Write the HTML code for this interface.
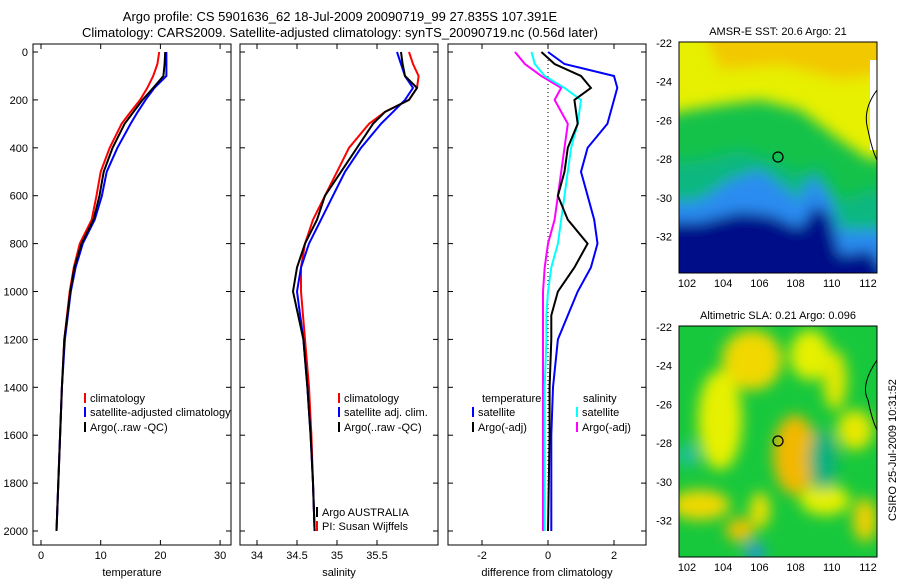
<!DOCTYPE html>
<html><head><meta charset="utf-8"><style>
html,body{margin:0;padding:0;background:#fff;}
svg{display:block;font-family:"Liberation Sans",sans-serif;}
</style></head><body>
<svg id="s" width="900" height="580" viewBox="0 0 900 580">
<defs>
<filter id="blur" x="-20%" y="-20%" width="140%" height="140%"><feGaussianBlur stdDeviation="7"/></filter>
<clipPath id="c1"><rect x="679" y="42" width="198" height="231"/></clipPath>
<clipPath id="c2"><rect x="679" y="326" width="198" height="231"/></clipPath>
</defs>
<text x="340" y="21" font-size="13" text-anchor="middle">Argo profile: CS 5901636_62 18-Jul-2009 20090719_99 27.835S 107.391E</text>
<text x="340" y="37" font-size="13" text-anchor="middle">Climatology: CARS2009. Satellite-adjusted climatology: synTS_20090719.nc (0.56d later)</text>
<g id="g"></g>
<!-- SST map -->
<g clip-path="url(#c1)">
<rect x="679" y="42" width="198" height="231" fill="#14c24a"/>
<g filter="url(#blur)">
<path d="M640,0 L920,0 L920,150 L870,160 L840,140 L800,110 L760,100 L720,105 L690,110 L640,120 Z" fill="#e6f000"/>
<path d="M690,0 L920,0 L920,70 L840,80 L780,65 L720,70 Z" fill="#f2c800"/>
<path d="M640,165 L700,160 L740,150 L770,160 L800,175 L820,165 L840,200 L870,190 L920,190 L920,320 L640,320 Z" fill="#10b880"/>
<path d="M640,205 L700,200 L730,180 L760,170 L780,185 L800,200 L810,175 L830,195 L840,230 L870,230 L920,230 L920,320 L640,320 Z" fill="#2a8cf0"/>
<path d="M640,222 L700,222 L740,212 L770,215 L800,228 L815,205 L830,215 L840,255 L870,250 L920,320 L640,320 Z" fill="#000c88"/>
</g>
<rect x="870" y="60" width="10" height="90" fill="#fff"/>
<path d="M877,90 Q862,110 868,130 Q872,150 877,160" fill="none" stroke="#000"/>
<circle cx="778" cy="157" r="5" fill="none" stroke="#000" stroke-width="1.3"/>
</g>
<rect x="679" y="42" width="198" height="231" fill="none" stroke="#000"/>
<text x="778" y="35" font-size="11" text-anchor="middle">AMSR-E SST: 20.6 Argo: 21</text>
<!-- SLA map -->
<g clip-path="url(#c2)">
<rect x="679" y="326" width="198" height="231" fill="#18c83c"/>
<g filter="url(#blur)">
<ellipse cx="752" cy="360" rx="30" ry="30" fill="#f0d800"/>
<ellipse cx="810" cy="355" rx="20" ry="25" fill="#e6f000"/>
<ellipse cx="720" cy="420" rx="22" ry="50" fill="#e6f000"/>
<ellipse cx="795" cy="455" rx="22" ry="40" fill="#f2b800"/>
<ellipse cx="700" cy="505" rx="30" ry="15" fill="#f0d800"/>
<ellipse cx="760" cy="510" rx="10" ry="18" fill="#f0e000"/>
<ellipse cx="740" cy="530" rx="14" ry="12" fill="#f0c000"/>
<ellipse cx="855" cy="430" rx="18" ry="20" fill="#e6e800"/>
<ellipse cx="865" cy="520" rx="12" ry="22" fill="#f0d000"/>
<ellipse cx="835" cy="380" rx="12" ry="30" fill="#e0e800"/>
<ellipse cx="825" cy="500" rx="25" ry="15" fill="#e6f000"/>
<ellipse cx="823" cy="460" rx="14" ry="30" fill="#10b080"/>
<ellipse cx="688" cy="455" rx="10" ry="12" fill="#20c0a0"/>
<ellipse cx="755" cy="552" rx="10" ry="8" fill="#2090f0"/>
</g>
<path d="M877,360 Q860,385 868,400 Q872,420 877,430" fill="none" stroke="#000"/>
<circle cx="778" cy="441" r="5" fill="none" stroke="#000" stroke-width="1.3"/>
</g>
<rect x="679" y="326" width="198" height="231" fill="none" stroke="#000"/>
<text x="778" y="319" font-size="11" text-anchor="middle">Altimetric SLA: 0.21 Argo: 0.096</text>
<text transform="translate(896,450) rotate(-90)" font-size="11" text-anchor="middle">CSIRO 25-Jul-2009 10:31:52</text>
</svg>
<script>
const depths=[0,50,100,150,200,250,300,400,500,600,700,800,900,1000,1200,1400,1600,1800,2000];
const tempClim=[19.8,19.5,18.8,17.8,16.6,15,13.5,11.5,10,9.3,8.5,6.5,5.5,4.8,3.9,3.5,3.2,2.9,2.6];
const tempSat=[21,21,21,19,17.5,16.2,15,12.8,11,10.2,9,7,5.8,5,4,3.5,3.2,2.9,2.6];
const tempArgo=[20.8,20.7,20.5,18.8,17,15.5,14,12,10.5,9.8,8.8,6.8,5.6,4.9,3.9,3.5,3.2,2.9,2.6];
const salClim=[35.9,35.95,36.02,36.0,35.9,35.6,35.4,35.15,35.0,34.85,34.7,34.6,34.55,34.55,34.6,34.65,34.68,34.7,34.72];
const salSat=[35.75,35.8,35.85,35.95,35.85,35.7,35.55,35.3,35.1,34.95,34.8,34.65,34.55,34.5,34.58,34.63,34.67,34.7,34.72];
const salArgo=[35.8,35.82,35.85,36.0,35.9,35.6,35.45,35.25,35.05,34.85,34.75,34.6,34.5,34.45,34.58,34.63,34.67,34.7,34.72];
const difDepths=[0,50,100,150,200,300,400,500,600,700,800,900,1000,1100,1200,1400,1600,2000];
const difTempSat=[0,0.5,2.0,2.1,2.0,1.8,1.2,1.0,1.2,1.4,1.5,1.3,0.9,0.6,0.3,0.15,0.1,0.1];
const difTempArgo=[-0.2,0.2,1.0,1.3,0.8,0.9,0.6,0.5,0.3,0.6,1.2,0.8,0.3,0.1,0.1,0.05,0.05,0.0];
const difSalSat=[-0.5,-0.4,-0.1,0.5,1.0,0.9,0.7,0.6,0.5,0.4,0.3,0.1,0.0,-0.05,-0.05,-0.1,-0.1,-0.1];
const difSalArgo=[-1,-0.7,-0.2,0.4,0.2,0.6,0.5,0.4,0.3,0.2,0.0,-0.1,-0.15,-0.15,-0.15,-0.15,-0.15,-0.15];
const depthTicks=[0,200,400,600,800,1000,1200,1400,1600,1800,2000];
const tempTicks=[0,10,20,30];
const salTicks=[34,34.5,35,35.5];
const difTicks=[-2,0,2];
const latTicks=[-22,-24,-26,-28,-30,-32];
const lonTicks=[102,104,106,108,110,112];

const NS='http://www.w3.org/2000/svg';
const g=document.getElementById('g');
function mk(t,a,txt){const e=document.createElementNS(NS,t);for(const k in a)e.setAttribute(k,a[k]);if(txt!==undefined)e.textContent=txt;g.appendChild(e);return e;}
const yD=d=>52+d*0.2395;
const panels=[
 {x0:33,name:'temperature',xs:v=>41+v*5.97,ticks:tempTicks,label:'temperature'},
 {x0:240,name:'salinity',xs:v=>257+(v-34)*80,ticks:salTicks,label:'salinity'},
 {x0:448,name:'difference',xs:v=>548+v*33,ticks:difTicks,label:'difference from climatology'}];
panels.forEach(p=>{
 const r=mk('rect',{x:p.x0,y:44,width:198,height:501,fill:'none',stroke:'#000'});
 
 
 p.ticks.forEach(t=>{const x=p.xs(t);
  mk('line',{x1:x,x2:x,y1:545,y2:540,stroke:'#000'});
  mk('line',{x1:x,x2:x,y1:44,y2:49,stroke:'#000'});
  const tl=mk('text',{x:x,y:559,'font-size':11,'text-anchor':'middle'},String(t));
  
  });
 const xl=mk('text',{x:p.x0+99,y:576,'font-size':11,'text-anchor':'middle'},p.label);
 
 
 depthTicks.forEach(d=>{const y=yD(d);
  mk('line',{x1:p.x0,x2:p.x0+5,y1:y,y2:y,stroke:'#000'});
  mk('line',{x1:p.x0+198,x2:p.x0+193,y1:y,y2:y,stroke:'#000'});});
});
depthTicks.forEach(d=>{const t=mk('text',{x:28,y:yD(d)+4,'font-size':11,'text-anchor':'end'},String(d));
 
 });
mk('line',{x1:548,x2:548,y1:60,y2:531,stroke:'#000','stroke-dasharray':'1,3'});
function line(xs,vals,dd,col,name){
 const pts=vals.map((v,i)=>xs(v).toFixed(1)+','+yD(dd[i]).toFixed(1)).join(' ');
 const l=mk('polyline',{points:pts,fill:'none',stroke:col,'stroke-width':2});
 
 }
const P=panels;
line(P[0].xs,tempClim,depths,'#f00','temp-climatology-line');
line(P[0].xs,tempSat,depths,'#00f','temp-satellite-line');
line(P[0].xs,tempArgo,depths,'#000','temp-argo-line');
line(P[1].xs,salClim,depths,'#f00','sal-climatology-line');
line(P[1].xs,salSat,depths,'#00f','sal-satellite-line');
line(P[1].xs,salArgo,depths,'#000','sal-argo-line');
line(P[2].xs,difSalArgo,difDepths,'#f0f','diff-sal-argo-line');
line(P[2].xs,difSalSat,difDepths,'#0ff','diff-sal-sat-line');
line(P[2].xs,difTempSat,difDepths,'#00f','diff-temp-sat-line');
line(P[2].xs,difTempArgo,difDepths,'#000','diff-temp-argo-line');
function leg(x,y,col,txt){
 if(col) mk('line',{x1:x,x2:x,y1:y-9,y2:y+1,stroke:col,'stroke-width':2});
 const t=mk('text',{x:x+5,y:y,'font-size':11},txt);
 
 }
leg(85,402,'#f00','climatology');leg(85,416,'#00f','satellite-adjusted climatology');leg(85,431,'#000','Argo(..raw -QC)');
leg(339,402,'#f00','climatology');leg(339,416,'#00f','satellite adj. clim.');leg(339,431,'#000','Argo(..raw -QC)');
leg(477,402,null,'temperature');leg(473,416,'#00f','satellite');leg(473,431,'#000','Argo(-adj)');
leg(578,402,null,'salinity');leg(577,416,'#0ff','satellite');leg(577,431,'#f0f','Argo(-adj)');
leg(317,516,'#000','Argo AUSTRALIA');leg(317,530,'#f00','PI: Susan Wijffels');
[[42,273],[326,557]].forEach(([top,bot],mi)=>{
 latTicks.forEach(la=>{const y=top+1+(-22-la)*19.35;
  mk('line',{x1:679,x2:684,y1:y,y2:y,stroke:'#000'});mk('line',{x1:877,x2:872,y1:y,y2:y,stroke:'#000'});
  const t=mk('text',{x:672,y:y+4,'font-size':11,'text-anchor':'end'},String(la));
  
  });
 lonTicks.forEach(lo=>{const x=687+(lo-102)*18.1;
  mk('line',{x1:x,x2:x,y1:bot,y2:bot-5,stroke:'#000'});mk('line',{x1:x,x2:x,y1:top,y2:top+5,stroke:'#000'});
  const t=mk('text',{x:x,y:bot+14,'font-size':11,'text-anchor':'middle'},String(lo));
  
  });
});
</script>
</body></html>
